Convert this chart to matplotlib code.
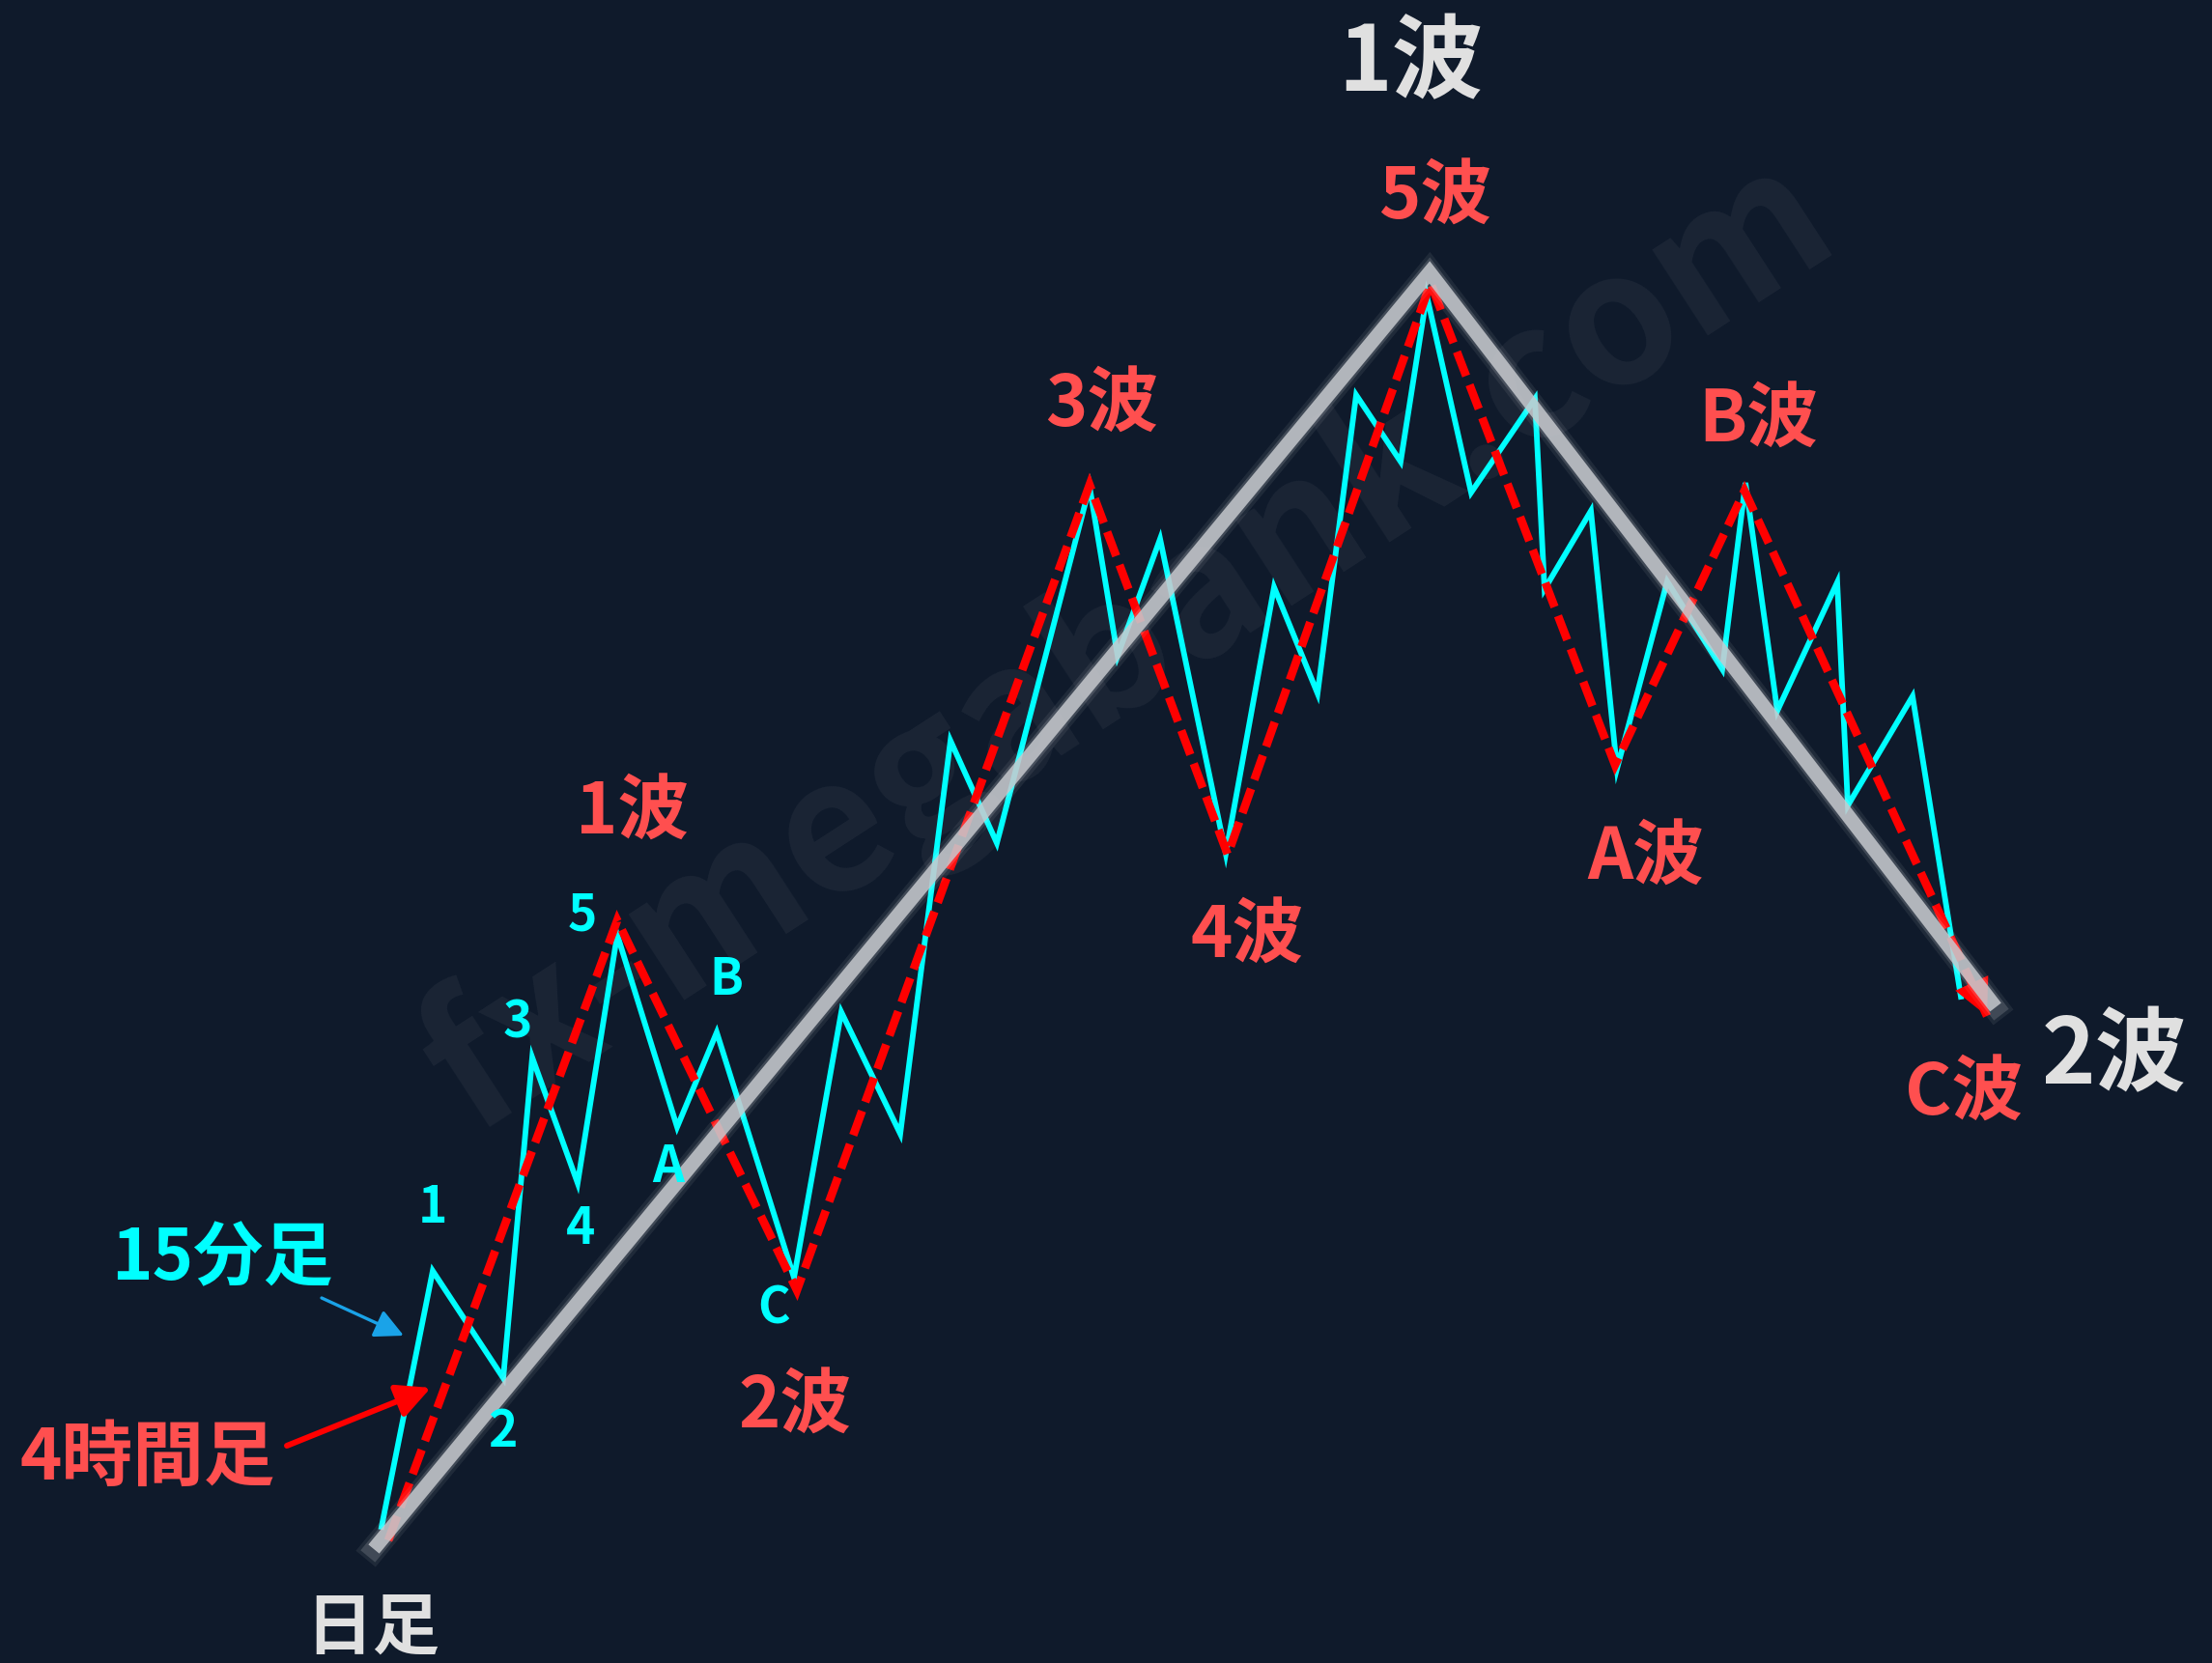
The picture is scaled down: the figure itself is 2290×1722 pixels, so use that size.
import matplotlib.pyplot as plt

plt.rcParams['font.family'] = ['Noto Sans CJK JP', 'DejaVu Sans']

# 日足 (daily) line
daily_x = [387, 1480, 2066]
daily_y = [1604, 282, 1043]

# 4時間足 (4h) dashed line
h4_x = [402, 639, 825, 1128, 1271, 1481, 1672, 1806, 2057]
h4_y = [1595, 953, 1336, 502, 885, 293, 792, 508, 1052]

# 15分足 (15min) line
m15_x = [395, 448, 521, 551, 598, 639, 701, 742, 822, 871, 932, 984, 1032,
         1128, 1157, 1201, 1269, 1319, 1364, 1404, 1450, 1477, 1523, 1589,
         1599, 1647, 1674, 1726, 1783, 1807, 1840, 1902, 1913, 1980, 2030]
m15_y = [1581, 1316, 1427, 1095, 1225, 968, 1167, 1069, 1323, 1048, 1174, 767, 873,
         504, 679, 558, 884, 608, 718, 409, 478, 306, 510, 413,
         610, 529, 796, 602, 693, 500, 736, 603, 834, 721, 1032]

# labels: text, x, y
white_labels = [('1波', 1460, 66), ('2波', 2189, 1094)]
red_labels = [('1波', 655, 842), ('2波', 823, 1457), ('3波', 1141, 420),
              ('4波', 1291, 970), ('5波', 1486, 205), ('A波', 1704, 889),
              ('B波', 1820, 436), ('C波', 2033, 1133)]
cyan_labels = [('1', 448, 1250), ('2', 520, 1482), ('3', 536, 1059),
               ('4', 601, 1273), ('5', 603, 948), ('A', 692, 1208),
               ('B', 752, 1015), ('C', 801, 1355)]

bg = '#0f1a2b'
red_txt = '#ff4f4f'

fig = plt.figure(figsize=(22.9, 17.22), dpi=100, facecolor=bg)
ax = fig.add_axes([0, 0, 1, 1])
ax.set_facecolor(bg)
ax.set_xlim(0, 2290)
ax.set_ylim(1722, 0)
ax.axis('off')

# watermark
ax.text(1170, 668, 'fx-megabank.com', fontsize=136, fontweight='bold',
        color='white', alpha=0.05, rotation=33, ha='center', va='center',
        rotation_mode='anchor', zorder=1)

# 15min
ax.plot(m15_x, m15_y, color='#00ffff', lw=4.2, solid_joinstyle='miter', zorder=3)

# 4h dashed
ax.plot(h4_x, h4_y, color='#ff0000', lw=6.2, dashes=(3.1, 1.15),
        dash_joinstyle='miter', dash_capstyle='butt', zorder=4)
ax.annotate('', xy=(h4_x[-1], h4_y[-1]), xytext=(h4_x[-1] - 12, h4_y[-1] - 26),
            arrowprops=dict(arrowstyle='-|>,head_length=0.9,head_width=0.45',
                            color='#ff0000', lw=0, mutation_scale=30,
                            shrinkA=0, shrinkB=0), zorder=4)

# daily with glow
ax.plot(daily_x, daily_y, color='white', lw=19, alpha=0.07,
        solid_joinstyle='miter', zorder=5)
ax.plot(daily_x, daily_y, color='white', lw=14, alpha=0.15,
        solid_joinstyle='miter', zorder=5)
ax.plot(daily_x, daily_y, color='#c6c9ce', lw=10.5, alpha=0.85,
        solid_joinstyle='miter', solid_capstyle='butt', zorder=6)

for t, x, y in white_labels:
    ax.text(x, y, t, fontsize=68, fontweight='bold', color='#e0e0e0',
            ha='center', va='center', zorder=7)
ax.text(386, 1686, '日足', fontsize=50, fontweight='bold', color='#e0e0e0',
        ha='center', va='center', zorder=7)

for t, x, y in red_labels:
    ax.text(x, y, t, fontsize=53, fontweight='bold', color=red_txt,
            ha='center', va='center', zorder=7)
ax.text(153, 1511, '4時間足', fontsize=53, fontweight='bold', color=red_txt,
        ha='center', va='center', zorder=7)

ax.text(230, 1304, '15分足', fontsize=52, fontweight='bold', color='#00ffff',
        ha='center', va='center', zorder=7)
for t, x, y in cyan_labels:
    ax.text(x, y, t, fontsize=37, fontweight='bold', color='#00ffff',
            ha='center', va='center', zorder=7)

# pointer arrows
ax.annotate('', xy=(418, 1383), xytext=(333, 1344),
            arrowprops=dict(arrowstyle='-|>,head_length=0.6,head_width=0.3',
                            color='#1aa3e8', lw=2.4, mutation_scale=30,
                            shrinkA=0, shrinkB=0), zorder=7)
ax.annotate('', xy=(446, 1437), xytext=(297, 1497),
            arrowprops=dict(arrowstyle='-|>,head_length=0.7,head_width=0.35',
                            color='#ff0000', lw=4.3, mutation_scale=30,
                            shrinkA=0, shrinkB=0), zorder=7)

fig.savefig('out.png', dpi=100, facecolor=bg)
